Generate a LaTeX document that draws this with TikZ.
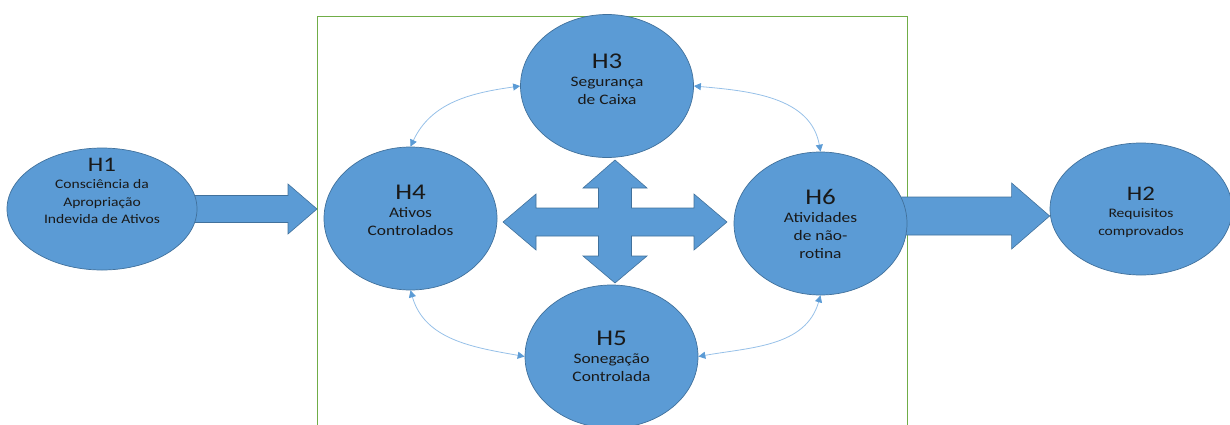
\documentclass[tikz,border=0pt]{standalone}
\usepackage{fontspec}
\setmainfont{Carlito}[FakeStretch=1.2]
\usetikzlibrary{shapes.geometric,arrows.meta,calc,backgrounds}

\definecolor{hypblue}{RGB}{91,155,213}
\definecolor{hypline}{RGB}{65,113,156}
\definecolor{linkblue}{RGB}{150,192,232}
\definecolor{framegreen}{RGB}{112,173,71}

\newcommand{\hlab}[1]{{\fontsize{22.5}{24}\selectfont #1}}
\newcommand{\hlabsmall}[1]{{\fontsize{20.7}{22}\selectfont #1}}

\begin{document}
\begin{tikzpicture}[x=1pt, y=1pt]
    % Define styles
    \tikzstyle{hyp} = [ellipse, draw=hypline, line width=0.7pt, fill=hypblue, minimum width=173pt, minimum height=143pt, inner sep=0pt]
    \tikzstyle{hyptext} = [align=center, font=\fontsize{14.5}{18}\selectfont, text=black!90]
    \tikzstyle{outtext} = [align=center, font=\fontsize{13}{17.5}\selectfont, text=black!90]
    \tikzstyle{bigarrow} = [draw=hypline, line width=0.6pt, fill=hypblue]
    \tikzstyle{link} = [{Triangle[length=7pt,width=7pt,color=hypblue]}-{Triangle[length=7pt,width=7pt,color=hypblue]}, draw=linkblue, line width=0.8pt]
    \tikzstyle{frame} = [draw=framegreen, line width=1.4pt, minimum width=590pt, minimum height=440pt, anchor=north west]

    \path[use as bounding box, clip] (0,0) rectangle (1230,-424);

    % Hypotheses
    \node[hyp, minimum width=190pt, minimum height=122pt] (h1) at (102,-209) {};
    \node[hyp, minimum width=182pt, minimum height=132pt] (h2) at (1141,-209) {};
    \node[hyp] (h3) at (607,-86) {};
    \node[hyp] (h4) at (410.5,-218.5) {};
    \node[hyp] (h5) at (611.5,-356.5) {};
    \node[hyp] (h6) at (820.5,-223.5) {};

    % Texts inside the hypotheses
    \node[outtext] (t1) at ([yshift=18pt]h1.center) {\hlabsmall{H1}\\Consciência da\\Apropriação\\Indevida de Ativos};
    \node[outtext] (t2) at ([yshift=-3pt]h2.center) {\hlabsmall{H2}\\Requisitos\\comprovados};
    \node[hyptext] (t3) at ([yshift=7pt]h3.center) {\hlab{H3}\\Segurança\\de Caixa};
    \node[hyptext] (t4) at ([yshift=8.5pt]h4.center) {\hlab{H4}\\Ativos\\Controlados};
    \node[hyptext] (t5) at (h5.center) {\hlab{H5}\\Sonegação\\Controlada};
    \node[hyptext] (t6) at (h6.center) {\hlab{H6}\\Atividades\\de não-\\rotina};

    \begin{scope}[on background layer]
    % Frame around the inner hypotheses
    \node[frame] (frame) at (317,-15.5) {};

    % Wide arrows into and out of the frame
    \coordinate (a1) at ($(h1.east)+(-10,0)$);
    \coordinate (b1) at (frame.west |- h1.east);
    \draw[bigarrow] ($(a1)+(0,13.5)$) -- ($(b1)+(-29,13.5)$) -- ($(b1)+(-29,25)$) -- (b1) -- ($(b1)+(-29,-25)$) -- ($(b1)+(-29,-13.5)$) -- ($(a1)+(0,-13.5)$) -- cycle;
    \coordinate (a2) at ($(h6.east)+(-10,7.5)$);
    \coordinate (b2) at (h2.west |- a2);
    \draw[bigarrow] ($(a2)+(0,19)$) -- ($(b2)+(-38,19)$) -- ($(b2)+(-38,33)$) -- (b2) -- ($(b2)+(-38,-33)$) -- ($(b2)+(-38,-19)$) -- ($(a2)+(0,-19)$) -- cycle;
    \end{scope}

    % Four-way arrow between the inner hypotheses
    \coordinate (cross) at (615,-222);
    \draw[bigarrow, shift={(cross)}] (112,0) -- (79,28) -- (79,14) -- (16.5,14) -- (16.5,34) -- (32,34) -- (0,62) -- (-32,34) -- (-16.5,34) -- (-16.5,14) -- (-79,14) -- (-79,28) -- (-112,0) -- (-79,-28) -- (-79,-14) -- (-16.5,-14) -- (-16.5,-34) -- (-32,-34) -- (0,-61) -- (32,-34) -- (16.5,-34) -- (16.5,-14) -- (79,-14) -- (79,-28) -- cycle;

    % Two-way links around the cross
    \draw[link] (h4.north) to[out=65, in=188] (h3.west);
    \draw[link] (h3.east) to[out=-5, in=100] (h6.north);
    \draw[link] (h4.south) to[out=-74, in=170] (h5.west);
    \draw[link] (h6.south) to[out=-106, in=10] (h5.east);

\end{tikzpicture}
\end{document}
